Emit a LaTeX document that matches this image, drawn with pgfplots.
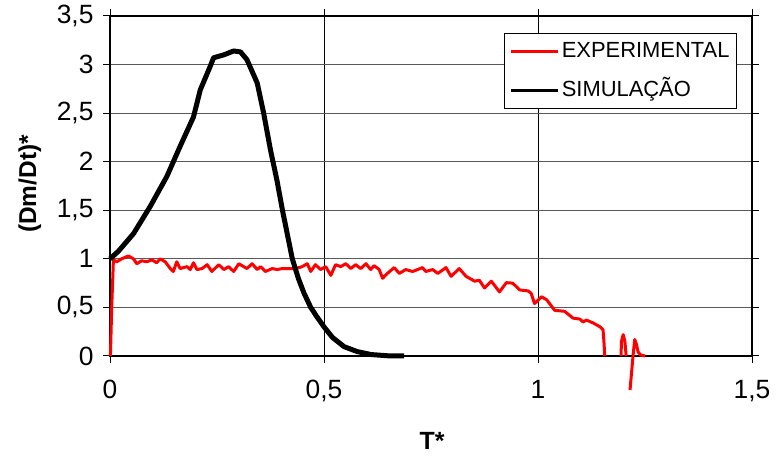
\documentclass[border=0pt]{standalone}
\usepackage{pgfplots}
\pgfplotsset{compat=1.18}
\usepackage{fontspec}
\setmainfont{Liberation Sans}
\begin{document}
\begin{tikzpicture}
\path[use as bounding box] (0,0) rectangle (778bp,458bp);
\begin{axis}[
  at={(110bp,102bp)}, anchor=south west,
  width=642bp, height=340bp, scale only axis,
  xmin=0, xmax=1.5, ymin=0, ymax=3.5,
  xtick={0,0.5,1,1.5}, ytick={0,0.5,1,1.5,2,2.5,3,3.5},
  /pgf/number format/.cd, use comma, assume math mode=true, fixed, /pgfplots/.cd,
  xmajorgrids, ymajorgrids,
  x grid style={black, line width=0.8bp},
  y grid style={black!65, line width=1.1bp},
  axis line style={black, line width=1.1bp},
  tick align=outside, major tick length=7bp,
  tick style={black, line width=1bp},
  ticklabel style={font=\fontsize{26.5}{30}\selectfont},
  xticklabel style={yshift=-14bp},
  yticklabel style={xshift=-6bp},
  clip=false,
  xlabel={\textbf{T*}}, ylabel={\textbf{(Dm/Dt)*}},
  every axis x label/.style={at={(axis description cs:0.5016,-0.25)}, anchor=center, font=\fontsize{25}{29}\selectfont},
  every axis y label/.style={at={(axis description cs:-0.125,0.506)}, rotate=90, anchor=center, font=\fontsize{24.5}{28}\selectfont},
  legend style={at={(rel axis cs:0.6137,0.95)}, anchor=north west, draw=black, line width=0.8bp,
    font=\fontsize{22}{26}\selectfont, inner xsep=5bp, inner ysep=6bp, row sep=15bp,
    nodes={text height=16bp, text depth=4bp, inner sep=2bp}},
  legend cell align=left,
  legend image code/.code={\draw[#1, line width=3.4bp] (0bp,0bp) -- (47bp,0bp);},
]
\addplot[red, line width=3bp, line join=round] coordinates {
(0.001,0) (0.004,0.5) (0.008,0.99) (0.016,0.97) (0.027,1.0) (0.043,1.03) (0.055,1.0) (0.0625,0.95)
(0.074,0.98) (0.086,0.97) (0.098,0.99) (0.109,0.96) (0.117,1.0) (0.129,0.97) (0.141,0.90) (0.148,0.87)
(0.156,0.97) (0.164,0.90) (0.180,0.92) (0.1875,0.89) (0.195,0.96) (0.203,0.89) (0.215,0.90) (0.227,0.94)
(0.238,0.87) (0.254,0.94) (0.266,0.89) (0.277,0.92) (0.289,0.87) (0.301,0.95) (0.32,0.90) (0.332,0.95)
(0.344,0.89) (0.352,0.92) (0.363,0.87) (0.379,0.90) (0.391,0.89) (0.402,0.90) (0.434,0.90) (0.449,0.92)
(0.461,0.95) (0.469,0.87) (0.48,0.94) (0.492,0.89) (0.504,0.92) (0.516,0.83) (0.527,0.94) (0.539,0.92)
(0.551,0.95) (0.5625,0.90) (0.574,0.94) (0.586,0.90) (0.598,0.95) (0.609,0.89) (0.617,0.93) (0.629,0.89)
(0.637,0.80) (0.648,0.85) (0.664,0.91) (0.676,0.85) (0.691,0.89) (0.707,0.87) (0.719,0.89) (0.730,0.91)
(0.738,0.87) (0.754,0.89) (0.766,0.85) (0.785,0.91) (0.797,0.82) (0.816,0.90) (0.832,0.82) (0.852,0.77)
(0.863,0.78) (0.875,0.70) (0.891,0.77) (0.910,0.66) (0.926,0.755) (0.941,0.75) (0.957,0.68) (0.977,0.67)
(0.984,0.645) (0.992,0.54) (1.008,0.61) (1.02,0.58) (1.039,0.47) (1.062,0.46) (1.082,0.39) (1.098,0.38)
(1.105,0.35) (1.113,0.37) (1.129,0.34) (1.145,0.30) (1.152,0.27) (1.154,0.15) (1.156,0.0)
};
\addlegendentry{EXPERIMENTAL}
\addplot[red, line width=3bp, line join=round, forget plot] coordinates {
(1.194,0) (1.195,0.15) (1.199,0.22) (1.203,0.15) (1.206,0)
};
\addplot[red, line width=3bp, line join=round, forget plot] coordinates {
(1.215,-0.35) (1.218,-0.2) (1.222,0) (1.226,0.17) (1.230,0.12) (1.234,0.04) (1.24,0.01) (1.25,0)
};
\addplot[black, line width=5bp, line join=round] coordinates {
(0,1.0) (0.02,1.08) (0.055,1.26) (0.094,1.54) (0.133,1.85) (0.164,2.16) (0.195,2.46) (0.211,2.74)
(0.234,2.98) (0.242,3.07) (0.266,3.10) (0.289,3.14) (0.305,3.13) (0.320,3.05) (0.344,2.81) (0.359,2.50)
(0.375,2.12) (0.39,1.81) (0.403,1.50) (0.414,1.26) (0.426,1.0) (0.44,0.80) (0.453,0.65) (0.469,0.50)
(0.484,0.40) (0.5,0.30) (0.52,0.19) (0.547,0.096) (0.578,0.045) (0.61,0.015) (0.656,0.0) (0.687,0.0)
};
\addlegendentry{SIMULAÇÃO}
\end{axis}
\end{tikzpicture}
\end{document}
